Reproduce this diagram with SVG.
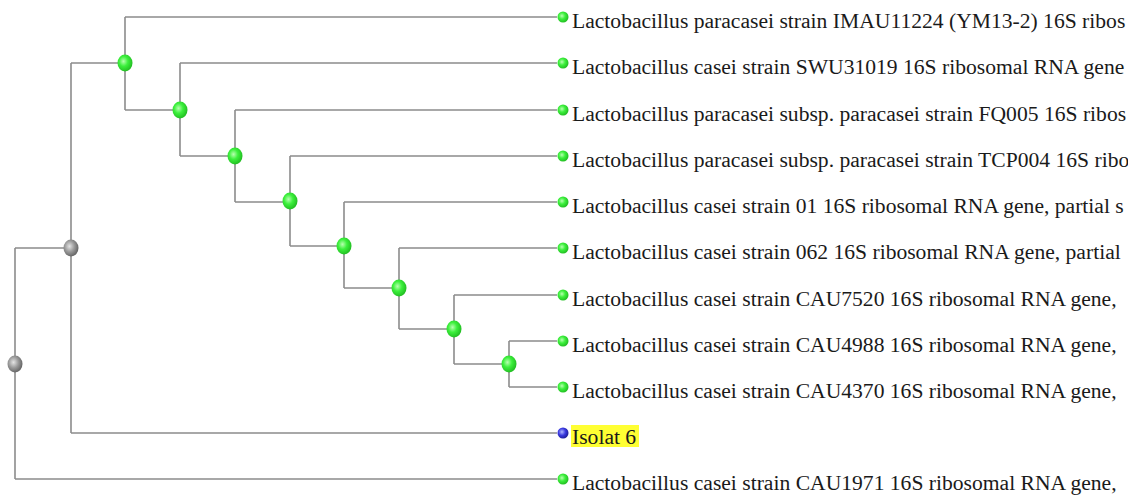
<svg xmlns="http://www.w3.org/2000/svg" width="1141" height="496" viewBox="0 0 1141 496">
<style>
.br{fill:none;stroke:#8c8c8c;stroke-width:1.6}
.lbl{font-family:"Liberation Serif","Times New Roman",serif;font-size:21.6px;fill:#1a1a1a}
.gn{fill:url(#gG)}
.gy{fill:url(#gY)}
.bl{fill:url(#gB)}
</style>
<defs>
<radialGradient id="gG" cx="0.4" cy="0.4" r="0.65">
<stop offset="0" stop-color="#b8ffb0"/>
<stop offset="0.45" stop-color="#3cf03c"/>
<stop offset="1" stop-color="#1fb81f"/>
</radialGradient>
<radialGradient id="gY" cx="0.4" cy="0.4" r="0.65">
<stop offset="0" stop-color="#e4e4e4"/>
<stop offset="0.5" stop-color="#9a9a9a"/>
<stop offset="1" stop-color="#5e5e5e"/>
</radialGradient>
<radialGradient id="gB" cx="0.4" cy="0.4" r="0.65">
<stop offset="0" stop-color="#b0b8ff"/>
<stop offset="0.5" stop-color="#3a3ae0"/>
<stop offset="1" stop-color="#1a1a90"/>
</radialGradient>
<clipPath id="clip"><rect x="0" y="0" width="1128" height="496"/></clipPath>
</defs>
<rect width="1141" height="496" fill="#ffffff"/>
<g id="connectors">
<path class="br" d="M15,248 V479 M15,248 H71 M15,479 H557"/>
<path class="br" d="M71,63 V433 M71,63 H125 M71,433 H557"/>
<path class="br" d="M125,17 V110 M125,17 H557 M125,110 H180"/>
<path class="br" d="M180,63 V156 M180,63 H557 M180,156 H235"/>
<path class="br" d="M235,110 V202 M235,110 H557 M235,202 H290"/>
<path class="br" d="M290,156 V246 M290,156 H557 M290,246 H344"/>
<path class="br" d="M344,202 V288 M344,202 H557 M344,288 H399"/>
<path class="br" d="M399,248 V329 M399,248 H557 M399,329 H454"/>
<path class="br" d="M454,295 V364 M454,295 H557 M454,364 H509"/>
<path class="br" d="M509,341 V387 M509,341 H557 M509,387 H557"/>
</g>
<g id="n-root"><ellipse class="gy" cx="15" cy="364" rx="7.5" ry="8.5"/></g>
<g id="n-g"><ellipse class="gy" cx="71" cy="248" rx="7.5" ry="8.5"/></g>
<g id="n1"><ellipse class="gn" cx="125" cy="63" rx="7.5" ry="8.5"/></g>
<g id="n2"><ellipse class="gn" cx="180" cy="110" rx="7.5" ry="8.5"/></g>
<g id="n3"><ellipse class="gn" cx="235" cy="156" rx="7.5" ry="8.5"/></g>
<g id="n4"><ellipse class="gn" cx="290" cy="201" rx="7.5" ry="8.5"/></g>
<g id="n5"><ellipse class="gn" cx="344" cy="246" rx="7.5" ry="8.5"/></g>
<g id="n6"><ellipse class="gn" cx="399" cy="288" rx="7.5" ry="8.5"/></g>
<g id="n7"><ellipse class="gn" cx="454" cy="329" rx="7.5" ry="8.5"/></g>
<g id="n8"><ellipse class="gn" cx="509" cy="364" rx="7.5" ry="8.5"/></g>
<g clip-path="url(#clip)">
<g id="leaf1"><circle class="gn" cx="563" cy="17" r="5.5"/><text class="lbl" x="572" y="28">Lactobacillus paracasei strain IMAU11224 (YM13-2) 16S ribos</text></g>
<g id="leaf2"><circle class="gn" cx="563" cy="63" r="5.5"/><text class="lbl" x="572" y="74">Lactobacillus casei strain SWU31019 16S ribosomal RNA gene</text></g>
<g id="leaf3"><circle class="gn" cx="563" cy="110" r="5.5"/><text class="lbl" x="572" y="121">Lactobacillus paracasei subsp. paracasei strain FQ005 16S ribos</text></g>
<g id="leaf4"><circle class="gn" cx="563" cy="156" r="5.5"/><text class="lbl" x="572" y="167">Lactobacillus paracasei subsp. paracasei strain TCP004 16S ribo</text></g>
<g id="leaf5"><circle class="gn" cx="563" cy="202" r="5.5"/><text class="lbl" x="572" y="213">Lactobacillus casei strain 01 16S ribosomal RNA gene, partial s</text></g>
<g id="leaf6"><circle class="gn" cx="563" cy="248" r="5.5"/><text class="lbl" x="572" y="259">Lactobacillus casei strain 062 16S ribosomal RNA gene, partial</text></g>
<g id="leaf7"><circle class="gn" cx="563" cy="295" r="5.5"/><text class="lbl" x="572" y="306">Lactobacillus casei strain CAU7520 16S ribosomal RNA gene,</text></g>
<g id="leaf8"><circle class="gn" cx="563" cy="341" r="5.5"/><text class="lbl" x="572" y="352">Lactobacillus casei strain CAU4988 16S ribosomal RNA gene,</text></g>
<g id="leaf9"><circle class="gn" cx="563" cy="387" r="5.5"/><text class="lbl" x="572" y="398">Lactobacillus casei strain CAU4370 16S ribosomal RNA gene,</text></g>
<g id="leaf10"><rect x="571" y="425" width="68" height="22" fill="#ffff33"/><circle class="bl" cx="563" cy="433" r="5.5"/><text class="lbl" x="572" y="444">Isolat 6</text></g>
<g id="leaf11"><circle class="gn" cx="563" cy="479" r="5.5"/><text class="lbl" x="572" y="490">Lactobacillus casei strain CAU1971 16S ribosomal RNA gene,</text></g>
</g>
</svg>
